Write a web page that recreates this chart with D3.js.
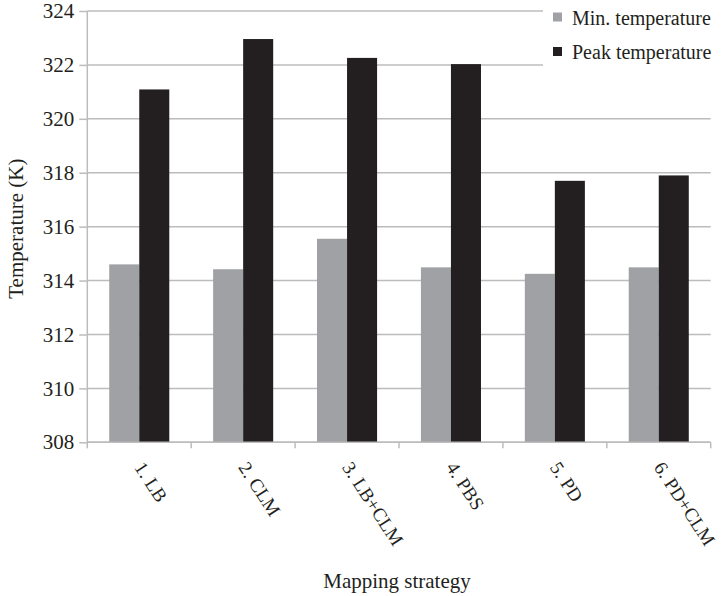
<!DOCTYPE html>
<html>
<head>
<meta charset="utf-8">
<script src="https://cdn.jsdelivr.net/npm/d3@7"></script>
</head>
<body style="margin:0">
<svg id="s" width="722" height="596"></svg>
<script>
const categories = ["1. LB", "2. CLM", "3. LB+CLM", "4. PBS", "5. PD", "6. PD+CLM"];
const seriesNames = ["Min. temperature", "Peak temperature"];
const minTemp = [314.6, 314.42, 315.55, 314.49, 314.25, 314.49];
const peakTemp = [321.09, 322.96, 322.26, 322.03, 317.7, 317.9];
const yTicks = [308, 310, 312, 314, 316, 318, 320, 322, 324];
const colors = ["#a0a1a4", "#231f20"];

const W = 722, H = 596;
const margin = { top: 11, right: 11.3, bottom: 153.7, left: 87.3 };
const FONT = "'Liberation Serif', monospace";
const TXT = "#231f20";
const svg = d3.select("#s");
const plotW = W - margin.left - margin.right;
const plotH = H - margin.top - margin.bottom;
const g = svg.append("g").attr("transform", `translate(${margin.left},${margin.top})`);

const x0 = d3.scaleBand().domain(categories).range([0, plotW]).padding(0);
const x1 = d3.scaleBand().domain(seriesNames).range([0, x0.bandwidth()]).paddingInner(0).paddingOuter(0.73);
const y = d3.scaleLinear().domain([308, 324]).range([plotH, 0]);

const gridColor = "#bcbcbc";

function styleText(sel, size) {
  return sel.style("font-family", FONT).style("font-size", size + "px").attr("fill", TXT);
}

// gridlines
g.append("g").selectAll("line").data(yTicks).join("line")
  .attr("x1", 0).attr("x2", plotW)
  .attr("y1", d => y(d)).attr("y2", d => y(d))
  .attr("stroke", gridColor).attr("stroke-width", 1.5);

// bars
const rows = categories.map((c, i) => ({ cat: c, vals: [minTemp[i], peakTemp[i]] }));
const groups = g.append("g").selectAll("g").data(rows).join("g")
  .attr("transform", d => `translate(${x0(d.cat)},0)`);
groups.selectAll("rect").data(d => d.vals.map((v, j) => ({ name: seriesNames[j], v, j })))
  .join("rect")
  .attr("x", d => x1(d.name))
  .attr("width", x1.bandwidth())
  .attr("y", d => y(d.v))
  .attr("height", d => y(308) - y(d.v))
  .attr("fill", d => colors[d.j]);

// y axis (d3 axis for ticks; labels drawn as own text)
const yAxis = d3.axisLeft(y).tickValues(yTicks).tickSize(8).tickFormat("");
const ya = g.append("g").call(yAxis);
ya.select(".domain").attr("stroke", gridColor).attr("stroke-width", 1.5).attr("d", `M0,${plotH}V0`);
ya.selectAll(".tick line").attr("stroke", gridColor).attr("stroke-width", 1.5);
styleText(g.append("g").selectAll("text").data(yTicks).join("text")
  .attr("x", -13).attr("y", d => y(d)).attr("dy", "0.34em")
  .attr("text-anchor", "end")
  .text(d => d3.format("d")(d)), 21);

// x axis
const xTickPos = d3.range(categories.length + 1).map(i => i * x0.step());
const xa = g.append("g").attr("transform", `translate(0,${plotH})`);
xa.append("line").attr("x1", 0).attr("x2", plotW).attr("y1", 0).attr("y2", 0)
  .attr("stroke", gridColor).attr("stroke-width", 1.5);
xa.selectAll("line.tk").data(xTickPos).join("line").attr("class", "tk")
  .attr("x1", d => d).attr("x2", d => d).attr("y1", 0).attr("y2", 6)
  .attr("stroke", gridColor).attr("stroke-width", 1.5);
styleText(xa.selectAll("text.lab").data(categories).join("text").attr("class", "lab")
  .attr("transform", d => `translate(${x0(d) + x0.bandwidth() / 2 - 5.5},${25}) rotate(57)`)
  .attr("text-anchor", "start")
  .text(d => d), 19);

// axis titles
styleText(svg.append("text")
  .attr("transform", `translate(${23},${margin.top + plotH / 2 + 2}) rotate(-90)`)
  .attr("text-anchor", "middle")
  .text("Temperature (K)"), 21);
styleText(svg.append("text")
  .attr("x", margin.left + plotW / 2 - 2)
  .attr("y", 588)
  .attr("text-anchor", "middle")
  .text("Mapping strategy"), 21);

// legend
const lg = svg.append("g");
lg.append("rect").attr("x", 543).attr("y", 0).attr("width", W - 543).attr("height", 74).attr("fill", "#fff");
const items = lg.selectAll("g").data(seriesNames).join("g")
  .attr("transform", (d, i) => `translate(553,${12.5 + i * 34.5})`);
items.append("rect").attr("width", 9).attr("height", 9).attr("fill", (d, i) => colors[i]);
styleText(items.append("text").attr("x", 19).attr("y", 12).text(d => d), 20);
</script>
</body>
</html>
